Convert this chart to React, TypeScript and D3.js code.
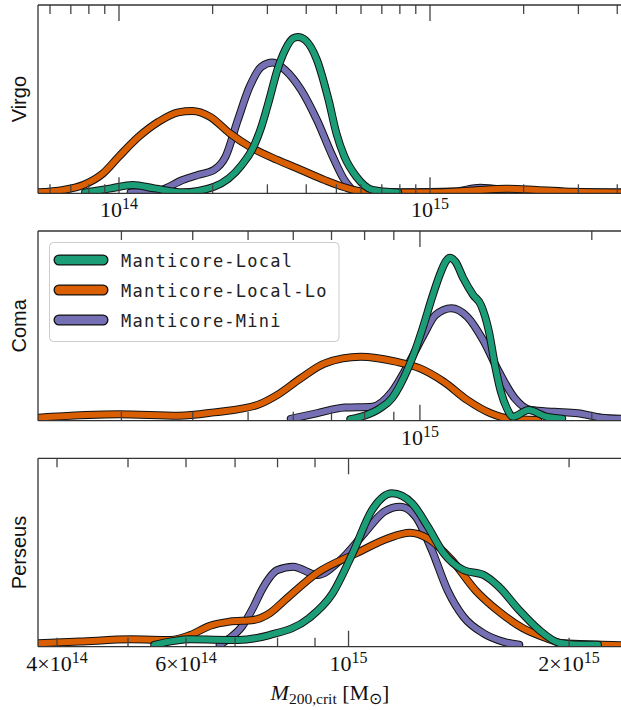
import React from "react";
import * as d3 from "d3";

// ---------- DATA ----------
const seriesNames = ["Manticore-Local", "Manticore-Local-Lo", "Manticore-Mini"];
const seriesColors = ["#1b9e77", "#d95f02", "#7570b3"];
const panelNames = ["Virgo", "Coma", "Perseus"];

// [M200,crit (Msun), relative density]
const virgoLocal: [number, number][] = [
  [7.78e13, 0.005], [9.42e13, 0.026], [1.107e14, 0.044], [1.3e14, 0.026], [1.6e14, 0.005],
  [2.02e14, 0.035], [2.48e14, 0.15], [2.71e14, 0.248], [2.87e14, 0.354], [3.04e14, 0.495],
  [3.23e14, 0.655], [3.42e14, 0.761], [3.63e14, 0.823], [3.76e14, 0.83], [3.97e14, 0.814],
  [4.33e14, 0.708], [4.72e14, 0.495], [5.0e14, 0.319], [5.31e14, 0.194], [5.8e14, 0.088],
  [6.53e14, 0.018], [7.9e14, 0.004],
];
const virgoLocalLo: [number, number][] = [
  [5.49e13, 0.005], [6.62e13, 0.018], [7.67e13, 0.044], [8.89e13, 0.106], [9.98e13, 0.194],
  [1.156e14, 0.3], [1.34e14, 0.38], [1.55e14, 0.43], [1.72e14, 0.437], [1.96e14, 0.407],
  [2.27e14, 0.319], [2.63e14, 0.248], [3.23e14, 0.177], [3.85e14, 0.124], [4.59e14, 0.07],
  [5.31e14, 0.032], [6.15e14, 0.008], [7.8e14, 0.004], [1.1e15, 0.006], [1.4e15, 0.016],
  [1.75e15, 0.024], [2.2e15, 0.018], [2.9e15, 0.008], [4.2e15, 0.004],
];
const virgoMini: [number, number][] = [
  [1.09e14, 0.004], [1.34e14, 0.014], [1.6e14, 0.07], [1.79e14, 0.097], [2.02e14, 0.124],
  [2.2e14, 0.194], [2.41e14, 0.389], [2.63e14, 0.566], [2.87e14, 0.672], [3.12e14, 0.694],
  [3.42e14, 0.655], [3.85e14, 0.549], [4.33e14, 0.389], [4.87e14, 0.194], [5.31e14, 0.07],
  [5.8e14, 0.01], [7.0e14, 0.004], [1.2e15, 0.01], [1.45e15, 0.03], [1.6e15, 0.024],
  [2.2e15, 0.01], [4.2e15, 0.004],
];

const comaLocal: [number, number][] = [
  [7.55e14, 0.008], [7.99e14, 0.026], [8.51e14, 0.065], [8.93e14, 0.118], [9.23e14, 0.188],
  [9.53e14, 0.276], [9.84e14, 0.382], [1.015e15, 0.504], [1.049e15, 0.645], [1.083e15, 0.768],
  [1.109e15, 0.838], [1.127e15, 0.859], [1.154e15, 0.838], [1.191e15, 0.751], [1.239e15, 0.663],
  [1.279e15, 0.61], [1.321e15, 0.469], [1.353e15, 0.294], [1.386e15, 0.153], [1.42e15, 0.065],
  [1.455e15, 0.021], [1.55e15, 0.056], [1.665e15, 0.021], [1.775e15, 0.01],
];
const comaLocalLo: [number, number][] = [
  [2.14e14, 0.016], [2.97e14, 0.034], [3.78e14, 0.026], [4.36e14, 0.044], [5.19e14, 0.083],
  [5.62e14, 0.135], [6.18e14, 0.223], [6.81e14, 0.302], [7.87e14, 0.337], [9.08e14, 0.311],
  [1.0e15, 0.276], [1.1e15, 0.206], [1.21e15, 0.109], [1.33e15, 0.039], [1.44e15, 0.01],
  [1.61e15, 0.004],
];
const comaMini: [number, number][] = [
  [5.94e14, 0.01], [6.59e14, 0.039], [7.38e14, 0.069], [8.25e14, 0.074], [8.93e14, 0.153],
  [9.53e14, 0.294], [1.015e15, 0.452], [1.065e15, 0.557], [1.135e15, 0.593], [1.21e15, 0.548],
  [1.29e15, 0.425], [1.375e15, 0.258], [1.466e15, 0.118], [1.563e15, 0.056], [1.72e15, 0.047],
  [1.89e15, 0.039], [2.08e15, 0.016], [2.26e15, 0.01],
];

const perseusLocal: [number, number][] = [
  [5.43e14, 0.01], [6.08e14, 0.039], [7.06e14, 0.036], [7.8e14, 0.062], [8.83e14, 0.151],
  [9.51e14, 0.283], [1.013e15, 0.496], [1.077e15, 0.726], [1.146e15, 0.814], [1.221e15, 0.761],
  [1.283e15, 0.637], [1.349e15, 0.496], [1.435e15, 0.407], [1.528e15, 0.381], [1.604e15, 0.318],
  [1.709e15, 0.195], [1.82e15, 0.089], [1.937e15, 0.021], [2.03e15, 0.012], [2.19e15, 0.01],
];
const perseusLocalLo: [number, number][] = [
  [3.77e14, 0.018], [4.29e14, 0.027], [5.05e14, 0.039], [5.72e14, 0.036], [6.08e14, 0.062],
  [6.47e14, 0.111], [6.88e14, 0.133], [7.42e14, 0.142], [7.8e14, 0.177], [8.19e14, 0.248],
  [9.05e14, 0.39], [1.025e15, 0.496], [1.132e15, 0.575], [1.213e15, 0.605], [1.283e15, 0.575],
  [1.383e15, 0.46], [1.49e15, 0.3], [1.605e15, 0.186], [1.73e15, 0.098], [1.863e15, 0.045],
  [1.96e15, 0.018], [2.36e15, 0.008],
];
const perseusMini: [number, number][] = [
  [6.67e14, 0.01], [6.88e14, 0.045], [7.15e14, 0.106], [7.42e14, 0.212], [7.61e14, 0.3],
  [8.0e14, 0.407], [8.4e14, 0.425], [9.06e14, 0.381], [9.75e14, 0.46], [1.051e15, 0.602],
  [1.119e15, 0.717], [1.176e15, 0.743], [1.235e15, 0.69], [1.299e15, 0.513], [1.365e15, 0.3],
  [1.435e15, 0.159], [1.528e15, 0.071], [1.625e15, 0.027], [1.71e15, 0.01],
];

// axis limits (Msun) and labelled ticks per panel
const panelLimits: [number, number][] = [
  [5.49e13, 4.143e15],
  [2.143e14, 2.259e15],
  [3.768e14, 2.362e15],
];
const panelTickLabels: number[][] = [
  [1e14, 1e15],
  [1e15],
  [4e14, 6e14, 1e15, 2e15],
];

const panelSeries = [
  [virgoLocal, virgoLocalLo, virgoMini],
  [comaLocal, comaLocalLo, comaMini],
  [perseusLocal, perseusLocalLo, perseusMini],
];

// ---------- LAYOUT ----------
const W = 621;
const H = 710;
const LEFT = 38;
const RIGHT = 622;
const panelBox = [
  { top: 5, bottom: 193.3 },
  { top: 231, bottom: 420.7 },
  { top: 458.3, bottom: 646.7 },
];
const drawOrder = [2, 1, 0];

function tickValues(lo: number, hi: number) {
  const out: { v: number; major: boolean }[] = [];
  for (let e = Math.floor(Math.log10(lo)); e <= Math.ceil(Math.log10(hi)); e++) {
    for (let k = 1; k <= 9; k++) {
      const v = k * Math.pow(10, e);
      if (v >= lo && v <= hi) out.push({ v, major: k === 1 });
    }
  }
  return out;
}

function TickLabel({ x, y, v }: { x: number; y: number; v: number }) {
  const e = Math.floor(Math.log10(v) + 1e-9);
  const m = Math.round(v / Math.pow(10, e));
  return (
    <text x={x} y={y} textAnchor="middle" fontFamily="'Liberation Serif', serif" fontSize={22} fill="#111">
      {m === 1 ? "10" : `${m}\u00d710`}
      <tspan fontSize={16} dy={-8}>{e}</tspan>
    </text>
  );
}

export default function App() {
  return (
    <svg
      width={W}
      height={H}
      style={{ position: "absolute", left: 0, top: 0, background: "#fff" }}
    >
      <defs>
        {panelBox.map((b, i) => (
          <clipPath id={`clip${i}`} key={i}>
            <rect x={LEFT} y={b.top} width={RIGHT - LEFT} height={b.bottom - b.top} />
          </clipPath>
        ))}
      </defs>
      {panelBox.map((b, i) => {
        const x = d3.scaleLog().domain(panelLimits[i]).range([LEFT, RIGHT]);
        const y = d3.scaleLinear().domain([0, 1]).range([b.bottom, b.top]);
        const line = d3
          .line<[number, number]>()
          .x((d) => x(d[0]))
          .y((d) => y(d[1]))
          .curve(d3.curveMonotoneX);
        const ticks = tickValues(panelLimits[i][0], panelLimits[i][1]);
        return (
          <g key={i}>
            <g clipPath={`url(#clip${i})`}>
              {drawOrder.map((s) => (
                <g key={s}>
                  <path d={line(panelSeries[i][s]) || ""} fill="none" stroke="#111" strokeWidth={8} strokeLinejoin="round" strokeLinecap="round" />
                  <path d={line(panelSeries[i][s]) || ""} fill="none" stroke={seriesColors[s]} strokeWidth={6} strokeLinejoin="round" strokeLinecap="round" />
                </g>
              ))}
            </g>
            {ticks.map((t, k) => {
              const len = t.major ? 16 : 9;
              const px = x(t.v);
              return (
                <g key={k} stroke="#444" strokeWidth={1.3}>
                  <line x1={px} x2={px} y1={b.top} y2={b.top + len} />
                  <line x1={px} x2={px} y1={b.bottom} y2={b.bottom - len} />
                </g>
              );
            })}
            <line x1={LEFT} x2={RIGHT} y1={b.top} y2={b.top} stroke="#333" strokeWidth={1.3} />
            <line x1={LEFT} x2={RIGHT} y1={b.bottom} y2={b.bottom} stroke="#333" strokeWidth={1.3} />
            <line x1={LEFT} x2={LEFT} y1={b.top} y2={b.bottom} stroke="#333" strokeWidth={1.3} />
            {panelTickLabels[i].map((v) => (
              <TickLabel key={v} x={x(v)} y={b.bottom + 24} v={v} />
            ))}
            <text
              transform={`translate(26,${(b.top + b.bottom) / 2}) rotate(-90)`}
              textAnchor="middle"
              fontFamily="'Liberation Sans', Arial, sans-serif"
              fontSize={20}
              fill="#111"
            >
              {panelNames[i]}
            </text>
          </g>
        );
      })}
      {/* legend */}
      <g>
        <rect x={49.5} y={242.5} width={289.5} height={99} rx={4} fill="#fff" fillOpacity={0.8} stroke="#ccc" strokeWidth={1} />
        {seriesNames.map((n, s) => {
          const ry = 260 + s * 30;
          return (
            <g key={n}>
              <line x1={59} x2={103} y1={ry} y2={ry} stroke="#111" strokeWidth={11} strokeLinecap="round" />
              <line x1={59} x2={103} y1={ry} y2={ry} stroke={seriesColors[s]} strokeWidth={8.4} strokeLinecap="round" />
              <text
                x={121}
                y={ry + 6.5}
                fontFamily="'DejaVu Sans Mono', monospace"
                fontSize={17}
                letterSpacing={1.25}
                fill="#222"
              >
                {n}
              </text>
            </g>
          );
        })}
      </g>
      {/* x axis label */}
      <text x={(LEFT + RIGHT) / 2} y={700} textAnchor="middle" fontFamily="'Liberation Serif', serif" fontSize={22} fill="#111">
        <tspan fontStyle="italic">M</tspan>
        <tspan fontSize={15.5} dy={4}>200,crit</tspan>
        <tspan dy={-4}>{" [M"}</tspan>
        <tspan fontSize={15.5} dy={4}>{"\u2299"}</tspan>
        <tspan dy={-4}>]</tspan>
      </text>
    </svg>
  );
}
